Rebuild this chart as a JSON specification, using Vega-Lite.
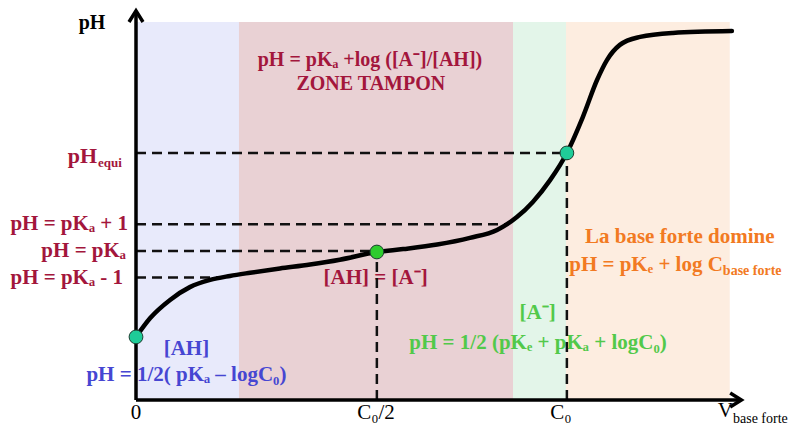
{
  "$schema": "https://vega.github.io/schema/vega-lite/v6.json",
  "width": 614,
  "height": 386,
  "autosize": "none",
  "padding": {"left": 136, "top": 14, "right": 39, "bottom": 32},
  "background": "white",
  "config": {"view": {"stroke": null}},
  "datasets": {
    "zones": [
      {"zone": "acide", "x": 0, "x2": 2.39, "y": 0, "y2": 14.2},
      {"zone": "tampon", "x": 2.39, "x2": 8.75, "y": 0, "y2": 14.2},
      {"zone": "base faible", "x": 8.75, "x2": 9.98, "y": 0, "y2": 14.2},
      {"zone": "base forte", "x": 9.98, "x2": 13.78, "y": 0, "y2": 14.2}
    ],
    "guides": [
      {"g": "pHequi", "x": 0, "x2": 10, "y": 9.28, "y2": 9.28},
      {"g": "pKa+1", "x": 0, "x2": 8.63, "y": 6.6, "y2": 6.6},
      {"g": "pKa", "x": 0, "x2": 5.59, "y": 5.6, "y2": 5.6},
      {"g": "pKa-1", "x": 0, "x2": 1.9, "y": 4.6, "y2": 4.6},
      {"g": "Vdemi", "x": 5.59, "x2": 5.59, "y": 0, "y2": 5.56},
      {"g": "Veq", "x": 10, "x2": 10, "y": 0, "y2": 9.28}
    ],
    "axes": [
      {"a": "pH", "x": 0, "x2": 0, "y": 0, "y2": 14.55},
      {"a": "V", "x": 0, "x2": 14.0, "y": 0, "y2": 0}
    ],
    "arrows": [
      {"dir": "up", "x": 0, "y": 14.62},
      {"dir": "right", "x": 14.05, "y": 0}
    ],
    "curve": [
      {"x": 0, "y": 2.37}, {"x": 0.33, "y": 3.08}, {"x": 0.79, "y": 3.76},
      {"x": 1.25, "y": 4.24}, {"x": 1.72, "y": 4.51}, {"x": 2.18, "y": 4.66},
      {"x": 2.65, "y": 4.78}, {"x": 3.34, "y": 4.94}, {"x": 4.04, "y": 5.09},
      {"x": 4.73, "y": 5.27}, {"x": 5.59, "y": 5.56}, {"x": 6.2, "y": 5.67},
      {"x": 6.99, "y": 5.84}, {"x": 7.75, "y": 6.09}, {"x": 8.38, "y": 6.39},
      {"x": 8.84, "y": 6.87}, {"x": 9.21, "y": 7.44}, {"x": 9.61, "y": 8.26},
      {"x": 10.0, "y": 9.28}, {"x": 10.37, "y": 10.63}, {"x": 10.7, "y": 12.02},
      {"x": 10.93, "y": 12.77}, {"x": 11.23, "y": 13.34}, {"x": 11.7, "y": 13.64},
      {"x": 12.46, "y": 13.79}, {"x": 13.83, "y": 13.86}
    ],
    "points": [
      {"p": "initial", "x": 0, "y": 2.37},
      {"p": "demi", "x": 5.59, "y": 5.56},
      {"p": "equivalence", "x": 10, "y": 9.28}
    ],
    "redRight": [
      {"t": "pH = pKₐ + 1", "x": -0.186, "y": 6.6},
      {"t": "pH = pKₐ", "x": -0.232, "y": 5.6},
      {"t": "pH = pKₐ - 1", "x": -0.3, "y": 4.6}
    ],
    "redTop": [
      {"t": "pH = pKₐ +log ([A⁻]/[AH])", "x": 5.43, "y": 12.76},
      {"t": "ZONE TAMPON", "x": 5.45, "y": 11.86}
    ],
    "redCenter": [
      {"t": "[AH] = [A⁻]", "x": 5.56, "y": 4.58}
    ],
    "equiMain": [{"t": "pH", "x": -0.905, "y": 9.17}],
    "equiSub": [{"t": "equi", "x": -0.905, "y": 9.17}],
    "blue": [
      {"t": "[AH]", "x": 1.17, "y": 1.92},
      {"t": "pH = 1/2( pKₐ – logC₀)", "x": 1.17, "y": 0.94}
    ],
    "green": [
      {"t": "[A⁻]", "x": 9.32, "y": 3.27},
      {"t": "pH = 1/2 (pKₑ + pKₐ + logC₀)", "x": 9.33, "y": 2.14}
    ],
    "orangeCenter": [{"t": "La base forte domine", "x": 12.62, "y": 6.12}],
    "orangeMain": [{"t": "pH = pKₑ + log C", "x": 13.62, "y": 5.07}],
    "orangeSub": [{"t": "base forte", "x": 13.62, "y": 5.07}],
    "title": [{"t": "pH", "x": -1.02, "y": 14.16}],
    "ticks": [
      {"t": "0", "x": 0, "y": -0.49},
      {"t": "C₀/2", "x": 5.57, "y": -0.49},
      {"t": "C₀", "x": 9.86, "y": -0.49}
    ],
    "vMain": [{"t": "V", "x": 13.855, "y": -0.41}],
    "vSub": [{"t": "base forte", "x": 13.855, "y": -0.41}]
  },
  "encoding": {
    "x": {"field": "x", "type": "quantitative", "scale": {"domain": [0, 14.25], "nice": false, "zero": false}, "axis": null},
    "y": {"field": "y", "type": "quantitative", "scale": {"domain": [0, 14.5], "nice": false, "zero": false}, "axis": null}
  },
  "layer": [
    {
      "data": {"name": "zones"},
      "mark": {"type": "rect"},
      "encoding": {
        "x2": {"field": "x2"},
        "y2": {"field": "y2"},
        "color": {"field": "zone", "type": "nominal", "legend": null,
          "scale": {"domain": ["acide", "tampon", "base faible", "base forte"], "range": ["#e8eafb", "#e9d1d4", "#e3f5e9", "#fdede0"]}}
      }
    },
    {
      "data": {"name": "redRight"},
      "mark": {"type": "text", "align": "right", "baseline": "middle", "font": "Liberation Serif", "fontWeight": "bold", "fontSize": 21, "color": "#a3163c"},
      "encoding": {"text": {"field": "t"}}
    },
    {
      "data": {"name": "redTop"},
      "mark": {"type": "text", "align": "center", "baseline": "middle", "font": "Liberation Serif", "fontWeight": "bold", "fontSize": 20, "color": "#a3163c"},
      "encoding": {"text": {"field": "t"}}
    },
    {
      "data": {"name": "redCenter"},
      "mark": {"type": "text", "align": "center", "baseline": "middle", "font": "Liberation Serif", "fontWeight": "bold", "fontSize": 21, "color": "#a3163c"},
      "encoding": {"text": {"field": "t"}}
    },
    {
      "data": {"name": "equiMain"},
      "mark": {"type": "text", "align": "right", "baseline": "middle", "font": "Liberation Serif", "fontWeight": "bold", "fontSize": 22, "color": "#a3163c"},
      "encoding": {"text": {"field": "t"}}
    },
    {
      "data": {"name": "equiSub"},
      "mark": {"type": "text", "align": "left", "baseline": "middle", "dx": 1, "dy": 7, "font": "Liberation Serif", "fontWeight": "bold", "fontSize": 13, "color": "#a3163c"},
      "encoding": {"text": {"field": "t"}}
    },
    {
      "data": {"name": "blue"},
      "mark": {"type": "text", "align": "center", "baseline": "middle", "font": "Liberation Serif", "fontWeight": "bold", "fontSize": 21, "color": "#4646d2"},
      "encoding": {"text": {"field": "t"}}
    },
    {
      "data": {"name": "green"},
      "mark": {"type": "text", "align": "center", "baseline": "middle", "font": "Liberation Serif", "fontWeight": "bold", "fontSize": 21, "color": "#52c94a"},
      "encoding": {"text": {"field": "t"}}
    },
    {
      "data": {"name": "orangeCenter"},
      "mark": {"type": "text", "align": "center", "baseline": "middle", "font": "Liberation Serif", "fontWeight": "bold", "fontSize": 21, "color": "#f27a22"},
      "encoding": {"text": {"field": "t"}}
    },
    {
      "data": {"name": "orangeMain"},
      "mark": {"type": "text", "align": "right", "baseline": "middle", "font": "Liberation Serif", "fontWeight": "bold", "fontSize": 21, "color": "#f27a22"},
      "encoding": {"text": {"field": "t"}}
    },
    {
      "data": {"name": "orangeSub"},
      "mark": {"type": "text", "align": "left", "baseline": "middle", "dx": 0, "dy": 6, "font": "Liberation Serif", "fontWeight": "bold", "fontSize": 14, "color": "#f27a22"},
      "encoding": {"text": {"field": "t"}}
    },
    {
      "data": {"name": "title"},
      "mark": {"type": "text", "align": "center", "baseline": "middle", "font": "Liberation Serif", "fontWeight": "bold", "fontSize": 20, "color": "#000000"},
      "encoding": {"text": {"field": "t"}}
    },
    {
      "data": {"name": "ticks"},
      "mark": {"type": "text", "align": "center", "baseline": "middle", "font": "Liberation Serif", "fontSize": 21, "color": "#000000"},
      "encoding": {"text": {"field": "t"}}
    },
    {
      "data": {"name": "vMain"},
      "mark": {"type": "text", "align": "right", "baseline": "middle", "font": "Liberation Serif", "fontSize": 21, "color": "#000000"},
      "encoding": {"text": {"field": "t"}}
    },
    {
      "data": {"name": "vSub"},
      "mark": {"type": "text", "align": "left", "baseline": "middle", "dy": 8, "font": "Liberation Serif", "fontSize": 14, "color": "#000000"},
      "encoding": {"text": {"field": "t"}}
    },
    {
      "data": {"name": "guides"},
      "mark": {"type": "rule", "strokeDash": [10, 6], "strokeWidth": 2.5, "color": "#111111"},
      "encoding": {"x2": {"field": "x2"}, "y2": {"field": "y2"}}
    },
    {
      "data": {"name": "axes"},
      "mark": {"type": "rule", "strokeWidth": 3.5, "color": "#000000"},
      "encoding": {"x2": {"field": "x2"}, "y2": {"field": "y2"}}
    },
    {
      "data": {"name": "arrows"},
      "mark": {"type": "point", "filled": false, "strokeWidth": 3.5, "opacity": 1, "color": "#000000", "size": 196, "strokeJoin": "miter"},
      "encoding": {
        "shape": {"field": "dir", "type": "nominal", "legend": null,
          "scale": {"domain": ["up", "right"], "range": ["M-1,1.6L0,0L1,1.6", "M-1.6,-1L0,0L-1.6,1"]}}
      }
    },
    {
      "data": {"name": "curve"},
      "mark": {"type": "line", "interpolate": "monotone", "strokeWidth": 4.5, "color": "#000000", "strokeCap": "round"},
      "encoding": {}
    },
    {
      "data": {"name": "points"},
      "mark": {"type": "point", "shape": "circle", "filled": true, "size": 190, "opacity": 1, "stroke": "#1d3d30", "strokeWidth": 1},
      "encoding": {
        "fill": {"field": "p", "type": "nominal", "legend": null,
          "scale": {"domain": ["initial", "demi", "equivalence"], "range": ["#1fcc98", "#2ecc2e", "#1fcc98"]}}
      }
    }
  ]
}
